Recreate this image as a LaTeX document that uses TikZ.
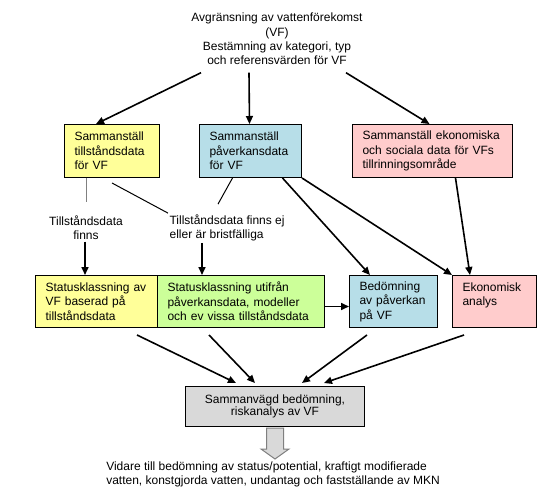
\documentclass[tikz,border=0pt]{standalone}
\usepackage{fontspec}
\setmainfont{Liberation Sans}
\usetikzlibrary{arrows.meta,calc}
\newdimen\pxu \pxu=0.75pt
\definecolor{boxyellow}{HTML}{FFFF99}
\definecolor{boxblue}{HTML}{B7DEE8}
\definecolor{boxpink}{HTML}{FFCCCC}
\definecolor{boxgreen}{HTML}{CCFF99}
\definecolor{boxgray}{HTML}{D9D9D9}
\definecolor{linegray}{HTML}{808080}

\begin{document}
\begin{tikzpicture}
[
    x=0.75pt, y=-0.75pt,
    font=\fontsize{9}{10.8}\selectfont,
    box/.style={draw, line width=0.75pt, align=left, anchor=north west, inner xsep=10\pxu, inner ysep=0pt},
    arr/.style={-{Triangle[length=6pt, width=5.25pt]}, line width=1.2pt},
    link/.style={line width=0.75pt},
    hollow/.style={draw=linegray, fill=boxgray, line width=0.75pt},
]
\useasboundingbox (0,0) rectangle (557,499);

\node [align=center] (title) at (277,39)
{Avgränsning av vattenförekomst\\(VF)\\Bestämning av kategori, typ\\och referensvärden för VF};

\node [box, fill=boxyellow, text width=75\pxu, minimum height=53\pxu] (samtill) at (64,124)
{Sammanställ\\tillståndsdata\\för VF};
\node [box, fill=boxblue, text width=82\pxu, minimum height=53\pxu] (sampav) at (199,124)
{Sammanställ\\påverkansdata\\för VF};
\node [box, fill=boxpink, text width=140\pxu, minimum height=53\pxu] (samek) at (352,124)
{Sammanställ ekonomiska\\och sociala data för VFs\\tillrinningsområde};

\node [align=center, inner sep=1pt] (tfinns) at (86,228)
{Tillståndsdata\\finns};
\node [align=left, inner sep=1pt, anchor=west] (tbrist) at (168,228)
{Tillståndsdata finns ej\\eller är bristfälliga};

\node [box, fill=boxyellow, text width=102\pxu, minimum height=52\pxu] (stattill) at (35,275)
{Statusklassning av\\VF baserad på\\tillståndsdata};
\node [box, fill=boxgreen, text width=147\pxu, minimum height=52\pxu] (statpav) at (157,275)
{Statusklassning utifrån\\påverkansdata, modeller\\och ev vissa tillståndsdata};
\node [box, fill=boxblue, text width=68\pxu, minimum height=52\pxu] (bedpav) at (349,275)
{Bedömning\\av påverkan\\på VF};
\node [box, fill=boxpink, text width=64\pxu, minimum height=52\pxu] (ekan) at (452,275)
{Ekonomisk\\analys\\\mbox{}};

\node [draw, line width=0.75pt, fill=boxgray, align=center, anchor=north west,
       minimum width=179\pxu, minimum height=40\pxu, font=\fontsize{9}{9.2}\selectfont] (samvag) at (185,386)
{Sammanvägd bedömning,\\riskanalys av VF};

\node [align=left, anchor=north west, inner sep=0pt, font=\fontsize{9}{10}\selectfont] (vidare) at (106,462)
{Vidare till bedömning av status/potential, kraftigt modifierade\\vatten, konstgjorda vatten, undantag och fastställande av MKN};

\draw [arr] ($(title.south)+(-76,3)$) -- ($(samtill.north)+(-16,0)$);
\draw [arr] ($(title.south)+(-28,3)$) -- ($(sampav.north)+(-1,0)$);
\draw [arr] ($(title.south)+(69,3)$) -- ($(samek.north)+(-3,0)$);

\coordinate (finnsbot) at ($(tfinns.south)+(-1,0)$);
\coordinate (bristbot) at ($(tbrist.south west)+(34,0)$);
\draw [link, linegray] (samtill.south -| tfinns.north) -- ($(tfinns.north)+(0,-12)$);
\draw [link] ($(samtill.south)+(0,5)$) -- (tbrist.north west);
\draw [link] ($(sampav.south)+(-18,0)$) -- ($(tbrist.north west)+(50,-9)$);
\draw [arr] (finnsbot) -- (finnsbot |- stattill.north);
\draw [arr] (bristbot) -- (bristbot |- statpav.north);

\draw [arr] ($(sampav.south)+(32,0)$) -- ($(bedpav.north west)+(21,0)$);
\draw [arr] (sampav.south east) -- (ekan.north west);
\draw [arr] ($(samek.south)+(23,0)$) -- ($(ekan.north west)+(18,0)$);
\draw [arr] ($(statpav.east)+(0,5)$) -- ($(bedpav.west)+(0,5)$);

\draw [arr] ($(stattill.south east)+(-21,7)$) -- ($(samvag.north west)+(51,-3)$);
\draw [arr] ($(statpav.south west)+(52,7)$) -- ($(samvag.north west)+(70,-3)$);
\draw [arr] ($(bedpav.south west)+(18,7)$) -- ($(samvag.north west)+(117,-3)$);
\draw [arr] ($(ekan.south west)+(12,7)$) -- ($(samvag.north west)+(139,-3)$);

\draw [hollow] ($(samvag.south)+(-8.5,1)$) -- ++(0,21) -- ++(-5.5,0) -- ++(14,10)
    -- ++(14,-10) -- ++(-5.5,0) -- ++(0,-21) -- cycle;
\end{tikzpicture}
\end{document}
